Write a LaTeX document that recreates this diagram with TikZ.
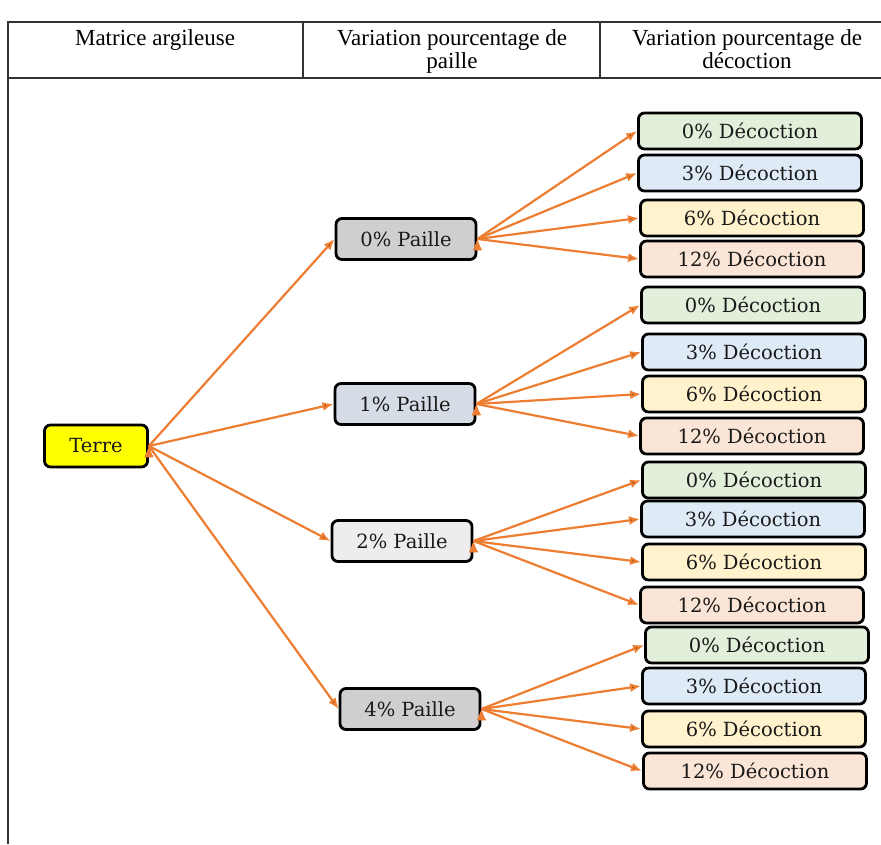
\documentclass[tikz,border=0pt]{standalone}
\usepackage{fontspec}
\setmainfont{DejaVu Serif}
\newfontfamily\headfont{Liberation Serif}
\usepackage{xcolor}
\usetikzlibrary{arrows.meta,positioning}
\definecolor{arrorange}{HTML}{ED7D31}
\definecolor{terrefill}{HTML}{FFFF00}
\definecolor{pgray}{HTML}{D0CECE}
\definecolor{pblue}{HTML}{D6DCE5}
\definecolor{plight}{HTML}{EDEDED}
\definecolor{dgreen}{HTML}{E2EFDA}
\definecolor{dblue}{HTML}{DEEBF7}
\definecolor{dyellow}{HTML}{FFF2CC}
\definecolor{dpeach}{HTML}{FBE5D6}
\tikzset{
    x=1pt, y=-1pt,
    box/.style = {draw, rounded corners=6pt, line width=2.8pt, text=black!90,
                  font=\fontsize{19.5}{23}\selectfont, inner sep=0pt},
    terrebox/.style = {box, fill=terrefill, minimum width=103pt, minimum height=42pt},
    paillebox/.style = {box, minimum width=140pt, minimum height=41pt},
    decbox/.style = {box, minimum width=223pt, minimum height=36pt},
    flow/.style = {draw=arrorange, line width=2.2pt, -{Latex[length=11pt,width=9pt]}},
    head/.style = {font=\headfont\fontsize{23}{23}\selectfont, align=center, anchor=north},
    grid/.style = {draw=black!80, line width=2pt}
}
\begin{document}
\begin{tikzpicture}
        \useasboundingbox (0,0) rectangle (881,844);
        % table frame
        \draw[grid] (881,22) -- (8,22) -- (8,844);
        \draw[grid] (8,78) -- (881,78);
        \draw[grid] (303,22) -- (303,78);
        \draw[grid] (600,22) -- (600,78);

        \node[head] (h1) at (155,26) {Matrice argileuse};
        \node[head] (h2) at (452,26) {Variation pourcentage de\\paille};
        \node[head] (h3) at (747,26) {Variation pourcentage de\\décoction};

        % matrix
        \node[terrebox] (t) at (96,446) {Terre};

        % straw
        \node[paillebox, fill=pgray]  (p0) at (406,239) {0\% Paille};
        \node[paillebox, fill=pblue]  (p1) at (405,404) {1\% Paille};
        \node[paillebox, fill=plight] (p2) at (402,541) {2\% Paille};
        \node[paillebox, fill=pgray]  (p4) at (410,709) {4\% Paille};

        % decoction
        \node[decbox, fill=dgreen]  (a0) at (750,131) {0\% Décoction};
        \node[decbox, fill=dblue]   (a3) at (750,173) {3\% Décoction};
        \node[decbox, fill=dyellow] (a6) at (752,218) {6\% Décoction};
        \node[decbox, fill=dpeach]  (a12) at (752,259) {12\% Décoction};

        \node[decbox, fill=dgreen]  (b0) at (753,305) {0\% Décoction};
        \node[decbox, fill=dblue]   (b3) at (754,352) {3\% Décoction};
        \node[decbox, fill=dyellow] (b6) at (754,394) {6\% Décoction};
        \node[decbox, fill=dpeach]  (b12) at (752,436) {12\% Décoction};

        \node[decbox, fill=dgreen]  (c0) at (754,480) {0\% Décoction};
        \node[decbox, fill=dblue]   (c3) at (753,519) {3\% Décoction};
        \node[decbox, fill=dyellow] (c6) at (754,562) {6\% Décoction};
        \node[decbox, fill=dpeach]  (c12) at (752,605) {12\% Décoction};

        \node[decbox, fill=dgreen]  (d0) at (757,645) {0\% Décoction};
        \node[decbox, fill=dblue]   (d3) at (754,686) {3\% Décoction};
        \node[decbox, fill=dyellow] (d6) at (754,729) {6\% Décoction};
        \node[decbox, fill=dpeach]  (d12) at (755,771) {12\% Décoction};

        \path[flow] (t.east) edge (p0.west);
        \path[flow] (t.east) edge (p1.west);
        \path[flow] (t.east) edge (p2.west);
        \path[flow] (t.east) edge (p4.west);

        \path[flow] (p0.east) edge (a0.west);
        \path[flow] (p0.east) edge (a3.west);
        \path[flow] (p0.east) edge (a6.west);
        \path[flow] (p0.east) edge (a12.west);

        \path[flow] (p1.east) edge (b0.west);
        \path[flow] (p1.east) edge (b3.west);
        \path[flow] (p1.east) edge (b6.west);
        \path[flow] (p1.east) edge (b12.west);

        \path[flow] (p2.east) edge (c0.west);
        \path[flow] (p2.east) edge (c3.west);
        \path[flow] (p2.east) edge (c6.west);
        \path[flow] (p2.east) edge (c12.west);

        \path[flow] (p4.east) edge (d0.west);
        \path[flow] (p4.east) edge (d3.west);
        \path[flow] (p4.east) edge (d6.west);
        \path[flow] (p4.east) edge (d12.west);
      \end{tikzpicture}
\end{document}
